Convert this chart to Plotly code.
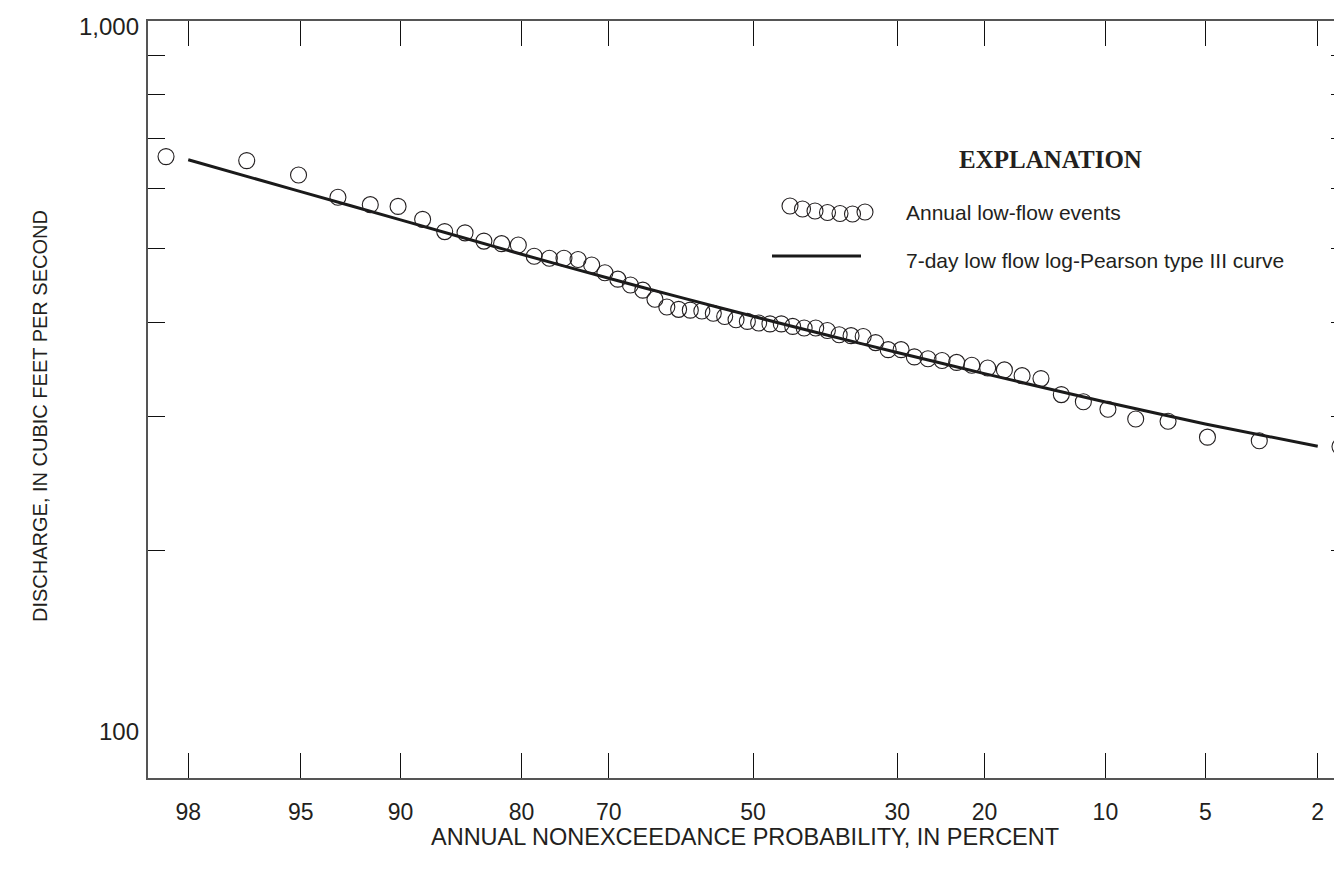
from statistics import NormalDist
import math
import plotly.graph_objects as go

# ---------------- data ----------------
# Annual low-flow events: nonexceedance probability (percent) and discharge (cfs)
event_prob = [98.36, 96.72, 95.08, 93.44, 91.80, 90.16, 88.52, 86.89, 85.25, 83.61,
              81.97, 80.33, 78.69, 77.05, 75.41, 73.77, 72.13, 70.49, 68.85, 67.21,
              65.57, 63.93, 62.30, 60.66, 59.02, 57.38, 55.74, 54.10, 52.46, 50.82,
              49.18, 47.54, 45.90, 44.26, 42.62, 40.98, 39.34, 37.70, 36.07, 34.43,
              32.79, 31.15, 29.51, 27.87, 26.23, 24.59, 22.95, 21.31, 19.67, 18.03,
              16.39, 14.75, 13.11, 11.48, 9.84, 8.20, 6.56, 4.92, 3.28, 1.64]
event_flow = [662, 654, 626, 585, 572, 569, 547, 527, 525, 512,
              508, 506, 489, 486, 486, 484, 476, 465, 456, 448,
              441, 429, 419, 416, 415, 414, 411, 407, 403, 401,
              399, 398, 398, 395, 393, 393, 390, 385, 384, 383,
              376, 368, 368, 360, 358, 356, 354, 351, 348, 346,
              340, 337, 321, 314, 307, 298, 296, 282, 279, 274]

# 7-day low flow log-Pearson type III curve
curve_prob = [98, 95, 90, 80, 70, 60, 50, 40, 30, 20, 10, 5, 2]
curve_flow = [655.6, 595.1, 546.1, 491.9, 457.2, 430.4, 407.3, 385.9, 364.8, 342.1,
              313.8, 293.6, 274.3]

tick_prob = [98, 95, 90, 80, 70, 50, 30, 20, 10, 5, 2]
tick_text = ["98", "95", "90", "80", "70", "50", "30", "20", "10", "5", "2"]
minor_flow = [200, 300, 400, 500, 600, 700, 800, 900]
x_range_prob = [98.61, 1.61]
y_range_flow = [100, 1000]

# ---------------- helpers ----------------
ND = NormalDist()


def zq(p):
    """Normal-probability scale position of a percent value."""
    return ND.inv_cdf(p / 100.0)


OFF = 8                      # default page body margin of the html page
W, H = 1342 - OFF, 873 - OFF
ML, MR, MT, MB = 148 - OFF, 0, 21 - OFF, 95
PW, PH = W - ML - MR, H - MT - MB
X0, Y1 = OFF + ML, OFF + H - MB   # page pixel of plot left / bottom


def px(x):
    return (x - X0) / PW


def py(y):
    return (Y1 - y) / PH


TXT = "#231f20"
SANS = "Liberation Sans, Arial, Helvetica, sans-serif"
SERIF = "Liberation Serif, Times New Roman, serif"

fig = go.Figure()

fig.add_trace(go.Scatter(
    x=[zq(p) for p in curve_prob], y=curve_flow, mode="lines",
    line=dict(color="#1a1a1a", width=3, shape="spline", smoothing=0.6),
    hoverinfo="skip", showlegend=False))

fig.add_trace(go.Scatter(
    x=[zq(p) for p in event_prob], y=event_flow, mode="markers",
    marker=dict(symbol="circle-open", size=16, color="#231f20",
                line=dict(width=1.1)),
    showlegend=False))

# dummy trace so the right-side tick axis is drawn
fig.add_trace(go.Scatter(x=[None], y=[None], yaxis="y2", showlegend=False,
                         hoverinfo="skip"))

fig.update_layout(
    width=W, height=H,
    margin=dict(l=ML, r=MR, t=MT, b=MB, pad=0),
    paper_bgcolor="white", plot_bgcolor="white",
    font=dict(family=SANS, color=TXT, size=24),
    xaxis=dict(
        range=[zq(x_range_prob[0]), zq(x_range_prob[1])],
        tickvals=[zq(p) for p in tick_prob], ticktext=tick_text,
        ticks="inside", ticklen=25, tickwidth=1, tickcolor="#111",
        showline=True, linecolor="#555", linewidth=2, mirror="ticks",
        showgrid=False, zeroline=False,
        tickfont=dict(size=23, family=SANS, color=TXT),
        ticklabelstandoff=12,
    ),
    yaxis=dict(
        type="log",
        range=[math.log10(y_range_flow[0]), math.log10(y_range_flow[1])],
        tickvals=minor_flow, ticks="inside", ticklen=17, tickwidth=1,
        tickcolor="#111", showticklabels=False,
        showline=True, linecolor="#555", linewidth=2, mirror=False,
        showgrid=False, zeroline=False,
    ),
    yaxis2=dict(
        type="log", overlaying="y", side="right", anchor="x",
        range=[math.log10(y_range_flow[0]), math.log10(y_range_flow[1])],
        tickvals=minor_flow, ticks="inside", ticklen=11, tickwidth=1,
        tickcolor="#111", showticklabels=False, showline=False,
        showgrid=False, zeroline=False,
    ),
)

ann = []
# y tick labels
ann.append(dict(text="1,000", x=px(141), y=py(26), xanchor="right", yanchor="middle"))
ann.append(dict(text="100", x=px(141), y=py(731), xanchor="right", yanchor="middle"))
# axis titles
ann.append(dict(text="DISCHARGE, IN CUBIC FEET PER SECOND", x=px(40), y=py(416),
                textangle=-90, xanchor="center", yanchor="middle",
                font=dict(size=20, family=SANS, color=TXT)))
ann.append(dict(text="ANNUAL NONEXCEEDANCE PROBABILITY, IN PERCENT", x=px(744.5),
                y=py(837), xanchor="center", yanchor="middle",
                font=dict(size=23.5, family=SANS, color=TXT)))
# explanation
ann.append(dict(text="<b>EXPLANATION</b>", x=px(1050), y=py(159), xanchor="center",
                yanchor="middle", font=dict(size=25, family=SERIF, color=TXT)))
ann.append(dict(text="Annual low-flow events", x=px(904), y=py(212), xanchor="left",
                yanchor="middle", font=dict(size=21, family=SANS, color=TXT)))
ann.append(dict(text="7-day low flow log-Pearson type III curve", x=px(904), y=py(260),
                xanchor="left", yanchor="middle",
                font=dict(size=21, family=SANS, color=TXT)))
for a in ann:
    a.update(xref="paper", yref="paper", showarrow=False)
    a.setdefault("font", dict(size=24, family=SANS, color=TXT))
fig.update_layout(annotations=ann)

# legend symbols
shapes = []
chain = [(790, 206), (802.5, 209), (815, 211), (827.5, 212.5), (840, 213.5),
         (852.5, 214), (865, 212)]
for cx, cy in chain:
    shapes.append(dict(type="circle", xref="paper", yref="paper",
                       xsizemode="pixel", ysizemode="pixel",
                       xanchor=px(cx), yanchor=py(cy), x0=-8, x1=8, y0=-8, y1=8,
                       line=dict(color="#231f20", width=1.1)))
shapes.append(dict(type="line", xref="paper", yref="paper",
                   x0=px(772), x1=px(861), y0=py(256), y1=py(256),
                   line=dict(color="#1a1a1a", width=3)))
fig.update_layout(shapes=shapes)

fig.write_html("out.html")
